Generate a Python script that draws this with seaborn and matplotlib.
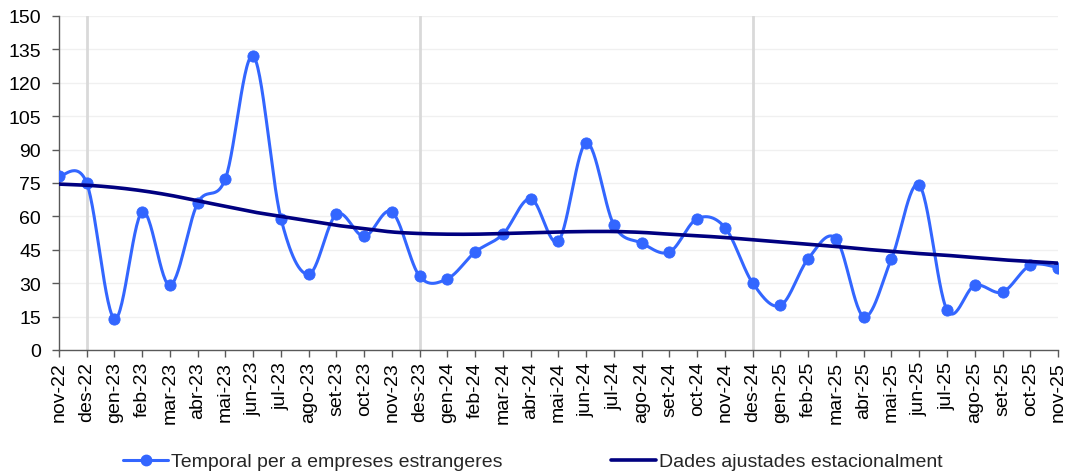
import matplotlib
matplotlib.use("Agg")
import matplotlib.pyplot as plt
from matplotlib.lines import Line2D
import seaborn as sns
import numpy as np
import pandas as pd

# months (catalan labels), nov-22 .. nov-25
months = ["nov-22", "des-22", "gen-23", "feb-23", "mar-23", "abr-23", "mai-23", "jun-23",
          "jul-23", "ago-23", "set-23", "oct-23", "nov-23", "des-23", "gen-24", "feb-24",
          "mar-24", "abr-24", "mai-24", "jun-24", "jul-24", "ago-24", "set-24", "oct-24",
          "nov-24", "des-24", "gen-25", "feb-25", "mar-25", "abr-25", "mai-25", "jun-25",
          "jul-25", "ago-25", "set-25", "oct-25", "nov-25"]

temporal = [78, 75, 14, 62, 29, 66, 77, 132, 59, 34, 61, 51, 62, 33, 32, 44,
            52, 68, 49, 93, 56, 48, 44, 59, 55, 30, 20, 41, 50, 15, 41, 74,
            18, 29, 26, 38, 37]

ajustades = [74.5, 74, 73, 71.5, 69.5, 67, 64.5, 62, 60, 58, 56, 54.5, 53, 52.3, 52, 52,
             52.3, 52.7, 53, 53.2, 53.2, 52.8, 52, 51.3, 50.5, 49.5, 48.5, 47.5, 46.5,
             45.3, 44.3, 43.3, 42.5, 41.5, 40.5, 39.8, 39]

label_temp = "Temporal per a empreses estrangeres"
label_adj = "Dades ajustades estacionalment"

blue = "#3366FF"
navy = "#000080"


def smooth(y, n=30):
    # excel-like smoothed line (catmull-rom bezier through the points)
    y = np.asarray(y, float)
    x = np.arange(len(y), dtype=float)
    xs, ys = [], []
    for i in range(len(y) - 1):
        p0 = (x[i - 1], y[i - 1]) if i > 0 else (x[i], y[i])
        p1 = (x[i], y[i])
        p2 = (x[i + 1], y[i + 1])
        p3 = (x[i + 2], y[i + 2]) if i + 2 < len(y) else (x[i + 1], y[i + 1])
        c1 = (p1[0] + (p2[0] - p0[0]) / 6, p1[1] + (p2[1] - p0[1]) / 6)
        c2 = (p2[0] - (p3[0] - p1[0]) / 6, p2[1] - (p3[1] - p1[1]) / 6)
        t = np.linspace(0, 1, n, endpoint=False)
        for k in range(2):
            pts = [p1[k], c1[k], c2[k], p2[k]]
            v = ((1 - t) ** 3 * pts[0] + 3 * (1 - t) ** 2 * t * pts[1]
                 + 3 * (1 - t) * t ** 2 * pts[2] + t ** 3 * pts[3])
            (xs if k == 0 else ys).extend(v)
    xs.append(x[-1]); ys.append(y[-1])
    return pd.DataFrame({"x": xs, "y": ys})


sns.set_theme(style="white")
plt.rcParams["font.family"] = ["Liberation Sans", "DejaVu Sans"]

fig = plt.figure(figsize=(10.66, 4.77), dpi=100)
ax = fig.add_axes([0.0553, 0.2642, 0.9372, 0.7002])

for yv in range(15, 151, 15):
    ax.axhline(yv, color="#f0f0f0", lw=1, zorder=0)
for i in (1, 13, 25):
    ax.axvline(i, color="#d9d9d9", lw=2, zorder=0)

st = smooth(temporal)
sa = smooth(ajustades)
sns.lineplot(data=st, x="x", y="y", ax=ax, color=blue, lw=2.2, sort=False, estimator=None)
sns.scatterplot(x=np.arange(len(temporal)), y=temporal, ax=ax, color=blue, s=65,
                edgecolor=blue, zorder=3)
sns.lineplot(data=sa, x="x", y="y", ax=ax, color=navy, lw=2.6, sort=False, estimator=None,
             zorder=4)

ax.set_xlim(0, len(months) - 1)
ax.set_ylim(0, 150)
ax.set_yticks(range(0, 151, 15))
ax.set_xticks(range(len(months)))
ax.set_xticklabels(months, rotation=90)
ax.set_xlabel("")
ax.set_ylabel("")
ax.tick_params(axis="both", labelsize=14, colors="#595959", labelcolor="black",
               length=5, width=1, direction="out", bottom=True, left=True, pad=3)
ax.tick_params(axis="y", pad=8)
for s in ("top", "right"):
    ax.spines[s].set_visible(False)
for s in ("left", "bottom"):
    ax.spines[s].set_color("#595959")
    ax.spines[s].set_linewidth(1)

handles = [Line2D([], [], color=blue, lw=2.2, marker="o", ms=7.5),
           Line2D([], [], color=navy, lw=2.6)]
fig.legend(handles, [label_temp, label_adj], loc="center", bbox_to_anchor=(0.5, 0.03),
           ncol=2, frameon=False, fontsize=14, handlelength=2.3, handletextpad=0.15,
           columnspacing=5.6)

fig.savefig("out.png", dpi=100)
